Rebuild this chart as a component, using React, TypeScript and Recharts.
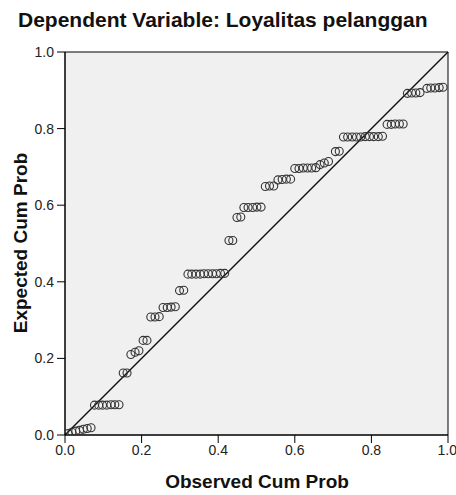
import React from 'react'
import {
  ScatterChart,
  Scatter,
  XAxis,
  YAxis,
  ReferenceArea,
  ReferenceLine,
  Label,
} from 'recharts'

// Normal P-P plot of regression standardized residual
const observedCumProb = [
  0.008, 0.018, 0.028, 0.038, 0.048, 0.058, 0.068,
  0.077, 0.088, 0.098, 0.109, 0.12, 0.13, 0.141,
  0.152, 0.162,
  0.172, 0.183, 0.193,
  0.204, 0.214,
  0.224, 0.235, 0.246,
  0.256, 0.267, 0.277, 0.288,
  0.299, 0.31,
  0.321, 0.331, 0.342, 0.353, 0.363, 0.374, 0.385, 0.395, 0.406, 0.417,
  0.428, 0.438,
  0.449, 0.459,
  0.467, 0.478, 0.49, 0.501, 0.512,
  0.523, 0.534, 0.545,
  0.556, 0.567, 0.578, 0.589,
  0.6, 0.611, 0.622, 0.633, 0.644, 0.655,
  0.666, 0.677, 0.688,
  0.706, 0.716,
  0.727, 0.738, 0.75, 0.761, 0.772, 0.784, 0.795, 0.806, 0.818, 0.829,
  0.841, 0.852, 0.862, 0.873, 0.883,
  0.894, 0.905, 0.916, 0.927,
  0.945, 0.955, 0.966, 0.977, 0.987,
]

const expectedCumProb = [
  0.004, 0.007, 0.01, 0.012, 0.015, 0.017, 0.019,
  0.078, 0.078, 0.078, 0.078, 0.079, 0.079, 0.079,
  0.162, 0.162,
  0.21, 0.216, 0.22,
  0.247, 0.247,
  0.308, 0.308, 0.309,
  0.333, 0.333, 0.334, 0.335,
  0.377, 0.378,
  0.42, 0.42, 0.42, 0.42, 0.421, 0.421, 0.421, 0.421, 0.422, 0.422,
  0.508, 0.508,
  0.568, 0.569,
  0.594, 0.594, 0.594, 0.595, 0.595,
  0.649, 0.65, 0.65,
  0.666, 0.667, 0.668, 0.668,
  0.696, 0.696, 0.697, 0.697, 0.697, 0.698,
  0.706, 0.71, 0.714,
  0.74, 0.741,
  0.778, 0.778, 0.778, 0.778, 0.778, 0.779, 0.779, 0.779, 0.779, 0.78,
  0.811, 0.811, 0.812, 0.812, 0.812,
  0.892, 0.893, 0.893, 0.894,
  0.905, 0.906, 0.906, 0.907, 0.908,
]

const axisTicks = [0, 0.2, 0.4, 0.6, 0.8, 1]
const diagonal = [0, 1]

const chartTitle = 'Dependent Variable: Loyalitas pelanggan'
const xTitle = 'Observed Cum Prob'
const yTitle = 'Expected Cum Prob'

const points = observedCumProb.map((x, i) => ({ x, y: expectedCumProb[i] }))

const FONT = '"Liberation Sans", Arial, sans-serif'
const titleStyle = { fontFamily: FONT, fontSize: 19, fontWeight: 'bold', fill: '#111' }

const Ring = (props: any) => (
  <circle
    cx={props.cx}
    cy={props.cy}
    r={4}
    fill="none"
    stroke="#333333"
    strokeWidth={1.1}
  />
)

export default function App() {
  const tickStyle = { fill: '#222', fontSize: 14, fontFamily: FONT }

  return (
    <div
      style={{
        position: 'fixed',
        left: 0,
        top: 0,
        width: 456,
        height: 495,
        overflow: 'hidden',
        background: '#fff',
      }}
    >
      <ScatterChart
        width={456}
        height={495}
        margin={{ top: 52, right: 8, bottom: 0, left: 0 }}
      >
        <XAxis
          type="number"
          dataKey="x"
          domain={[0, 1]}
          ticks={axisTicks}
          tickFormatter={(v: number) => v.toFixed(1)}
          tick={tickStyle}
          tickSize={8}
          tickMargin={2}
          height={60}
          stroke="#000"
          allowDataOverflow
        >
          <Label
            content={() => (
              <text x={257} y={488} textAnchor="middle" style={titleStyle}>
                {xTitle}
              </text>
            )}
          />
        </XAxis>
        <YAxis
          type="number"
          dataKey="y"
          domain={[0, 1]}
          ticks={axisTicks}
          tickFormatter={(v: number) => v.toFixed(1)}
          tick={tickStyle}
          tickSize={8}
          tickMargin={3}
          width={65}
          stroke="#000"
          allowDataOverflow
        >
          <Label
            content={() => (
              <text
                transform="translate(27,243) rotate(-90)"
                textAnchor="middle"
                style={titleStyle}
              >
                {yTitle}
              </text>
            )}
          />
        </YAxis>
        <ReferenceArea
          x1={diagonal[0]}
          x2={diagonal[1]}
          y1={diagonal[0]}
          y2={diagonal[1]}
          fill="#f0f0f0"
          fillOpacity={1}
          stroke="#000"
          strokeWidth={1}
        />
        <ReferenceLine
          segment={[
            { x: diagonal[0], y: diagonal[0] },
            { x: diagonal[1], y: diagonal[1] },
          ]}
          stroke="#111"
          strokeWidth={1.5}
        />
        <Scatter data={points} shape={Ring} isAnimationActive={false} />
      </ScatterChart>
      <svg
        width={456}
        height={40}
        style={{ position: 'absolute', left: 0, top: 0, pointerEvents: 'none' }}
      >
        <text
          x={18}
          y={27}
          style={{ fontFamily: FONT, fontSize: 21, fontWeight: 'bold', fill: '#111' }}
        >
          {chartTitle}
        </text>
      </svg>
    </div>
  )
}
